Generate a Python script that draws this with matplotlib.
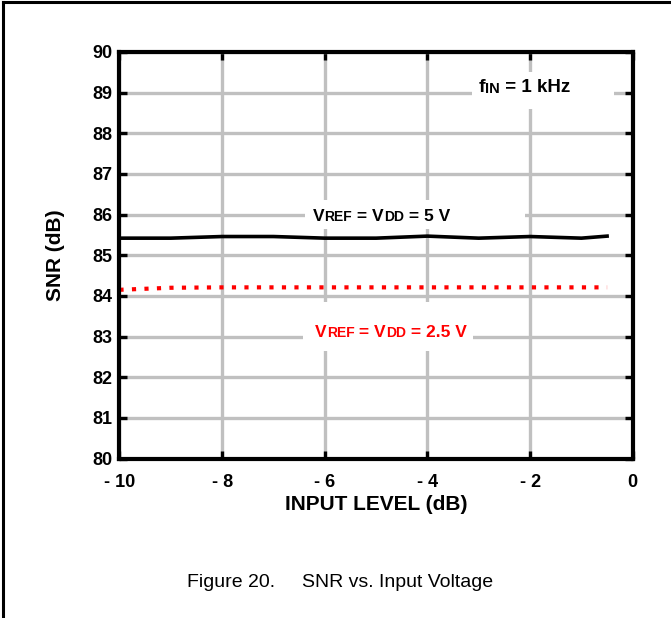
import matplotlib
matplotlib.use("Agg")

import matplotlib.pyplot as plt
from matplotlib.patches import Rectangle

# ---------------- data ----------------
input_level = [-10, -9, -8, -7, -6, -5, -4, -3, -2, -1, -0.5]
snr_5v = [85.42, 85.42, 85.46, 85.46, 85.42, 85.42, 85.47, 85.42, 85.46, 85.42, 85.47]

input_level_25 = [-10, -9, -8, -7, -6, -5, -4, -3, -2, -1, -0.5]
snr_25v = [84.15, 84.2, 84.21, 84.21, 84.21, 84.21, 84.21, 84.21, 84.21, 84.21, 84.21]

x_ticks = [-10, -8, -6, -4, -2, 0]
x_tick_labels = ["- 10", "- 8", "- 6", "- 4", "- 2", "0"]
y_ticks = list(range(80, 91))

BOLD = ["Liberation Sans", "DejaVu Sans"]
REGULAR = ["Liberation Sans", "DejaVu Sans"]


def pieced_label(ax, x, y, pieces, color):
    # text made of pieces with different sizes, side by side
    prev = None
    for txt, size in pieces:
        if prev is None:
            prev = ax.text(x, y, txt, fontsize=size, fontweight="bold",
                           family=BOLD, color=color, ha="left", va="bottom",
                           zorder=6)
        else:
            prev = ax.annotate(txt, xy=(1, 0), xycoords=prev, fontsize=size,
                               fontweight="bold", family=BOLD, color=color,
                               ha="left", va="bottom", zorder=6)


fig = plt.figure(figsize=(6.71, 6.18), dpi=100)

# page frame (left and top edges)
fig.add_artist(plt.Line2D([0.004, 0.004], [0, 0.997], color="black", lw=2.2))
fig.add_artist(plt.Line2D([0.004, 1.0], [0.997, 0.997], color="black", lw=2.2))

ax = fig.add_axes([0.178, 0.258, 0.765, 0.658])

ax.plot(input_level, snr_5v, color="black", lw=2.6, zorder=4)
ax.plot(input_level_25, snr_25v, color="red", lw=3, linestyle=(0, (1, 2)),
        zorder=4)

ax.set_xlim(-10, 0)
ax.set_ylim(80, 90)
ax.set_xticks(x_ticks)
ax.set_xticklabels(x_tick_labels)
ax.set_yticks(y_ticks)

ax.grid(True, color="#c0c0c0", lw=2.4, zorder=0)
ax.set_axisbelow(True)
for s in ax.spines.values():
    s.set_linewidth(3)
    s.set_zorder(7)
ax.tick_params(direction="in", length=6, width=2.4, top=True, right=True,
               labelsize=13)
ax.tick_params(axis="x", pad=11)
ax.tick_params(axis="y", pad=5)
for lab in ax.get_xticklabels() + ax.get_yticklabels():
    lab.set_fontweight("bold")
    lab.set_family(BOLD)

ax.set_xlabel("INPUT LEVEL (dB)", fontsize=15, fontweight="bold",
              family=BOLD, labelpad=3)
ax.set_ylabel("SNR (dB)", fontsize=15, fontweight="bold",
              family=BOLD, labelpad=20)

# white boxes hiding grid behind the labels
ax.add_patch(Rectangle((-6.39, 85.65), 4.3, 0.7, facecolor="white",
                       edgecolor="none", zorder=3))
ax.add_patch(Rectangle((-6.42, 82.65), 3.3, 1.2, facecolor="white",
                       edgecolor="none", zorder=3))
ax.add_patch(Rectangle((-3.13, 88.6), 2.77, 0.9, facecolor="white",
                       edgecolor="none", zorder=3))

pieced_label(ax, -6.23, 85.78, [("V", 12.5), ("REF", 10), (" = V", 12.5),
                                ("DD", 10), (" = 5 V", 12.5)], "black")
pieced_label(ax, -6.19, 82.92, [("V", 12.5), ("REF", 10), (" = V", 12.5),
                                ("DD", 10), (" = 2.5 V", 12.5)], "red")
pieced_label(ax, -3.01, 88.92, [("f", 14), ("IN", 10.5), (" = 1 kHz", 13.5)],
             "black")

fig.text(0.507, 0.057, "Figure 20.     SNR vs. Input Voltage", fontsize=14,
         family=REGULAR, ha="center", va="center")

fig.savefig("out.png", dpi=100)
